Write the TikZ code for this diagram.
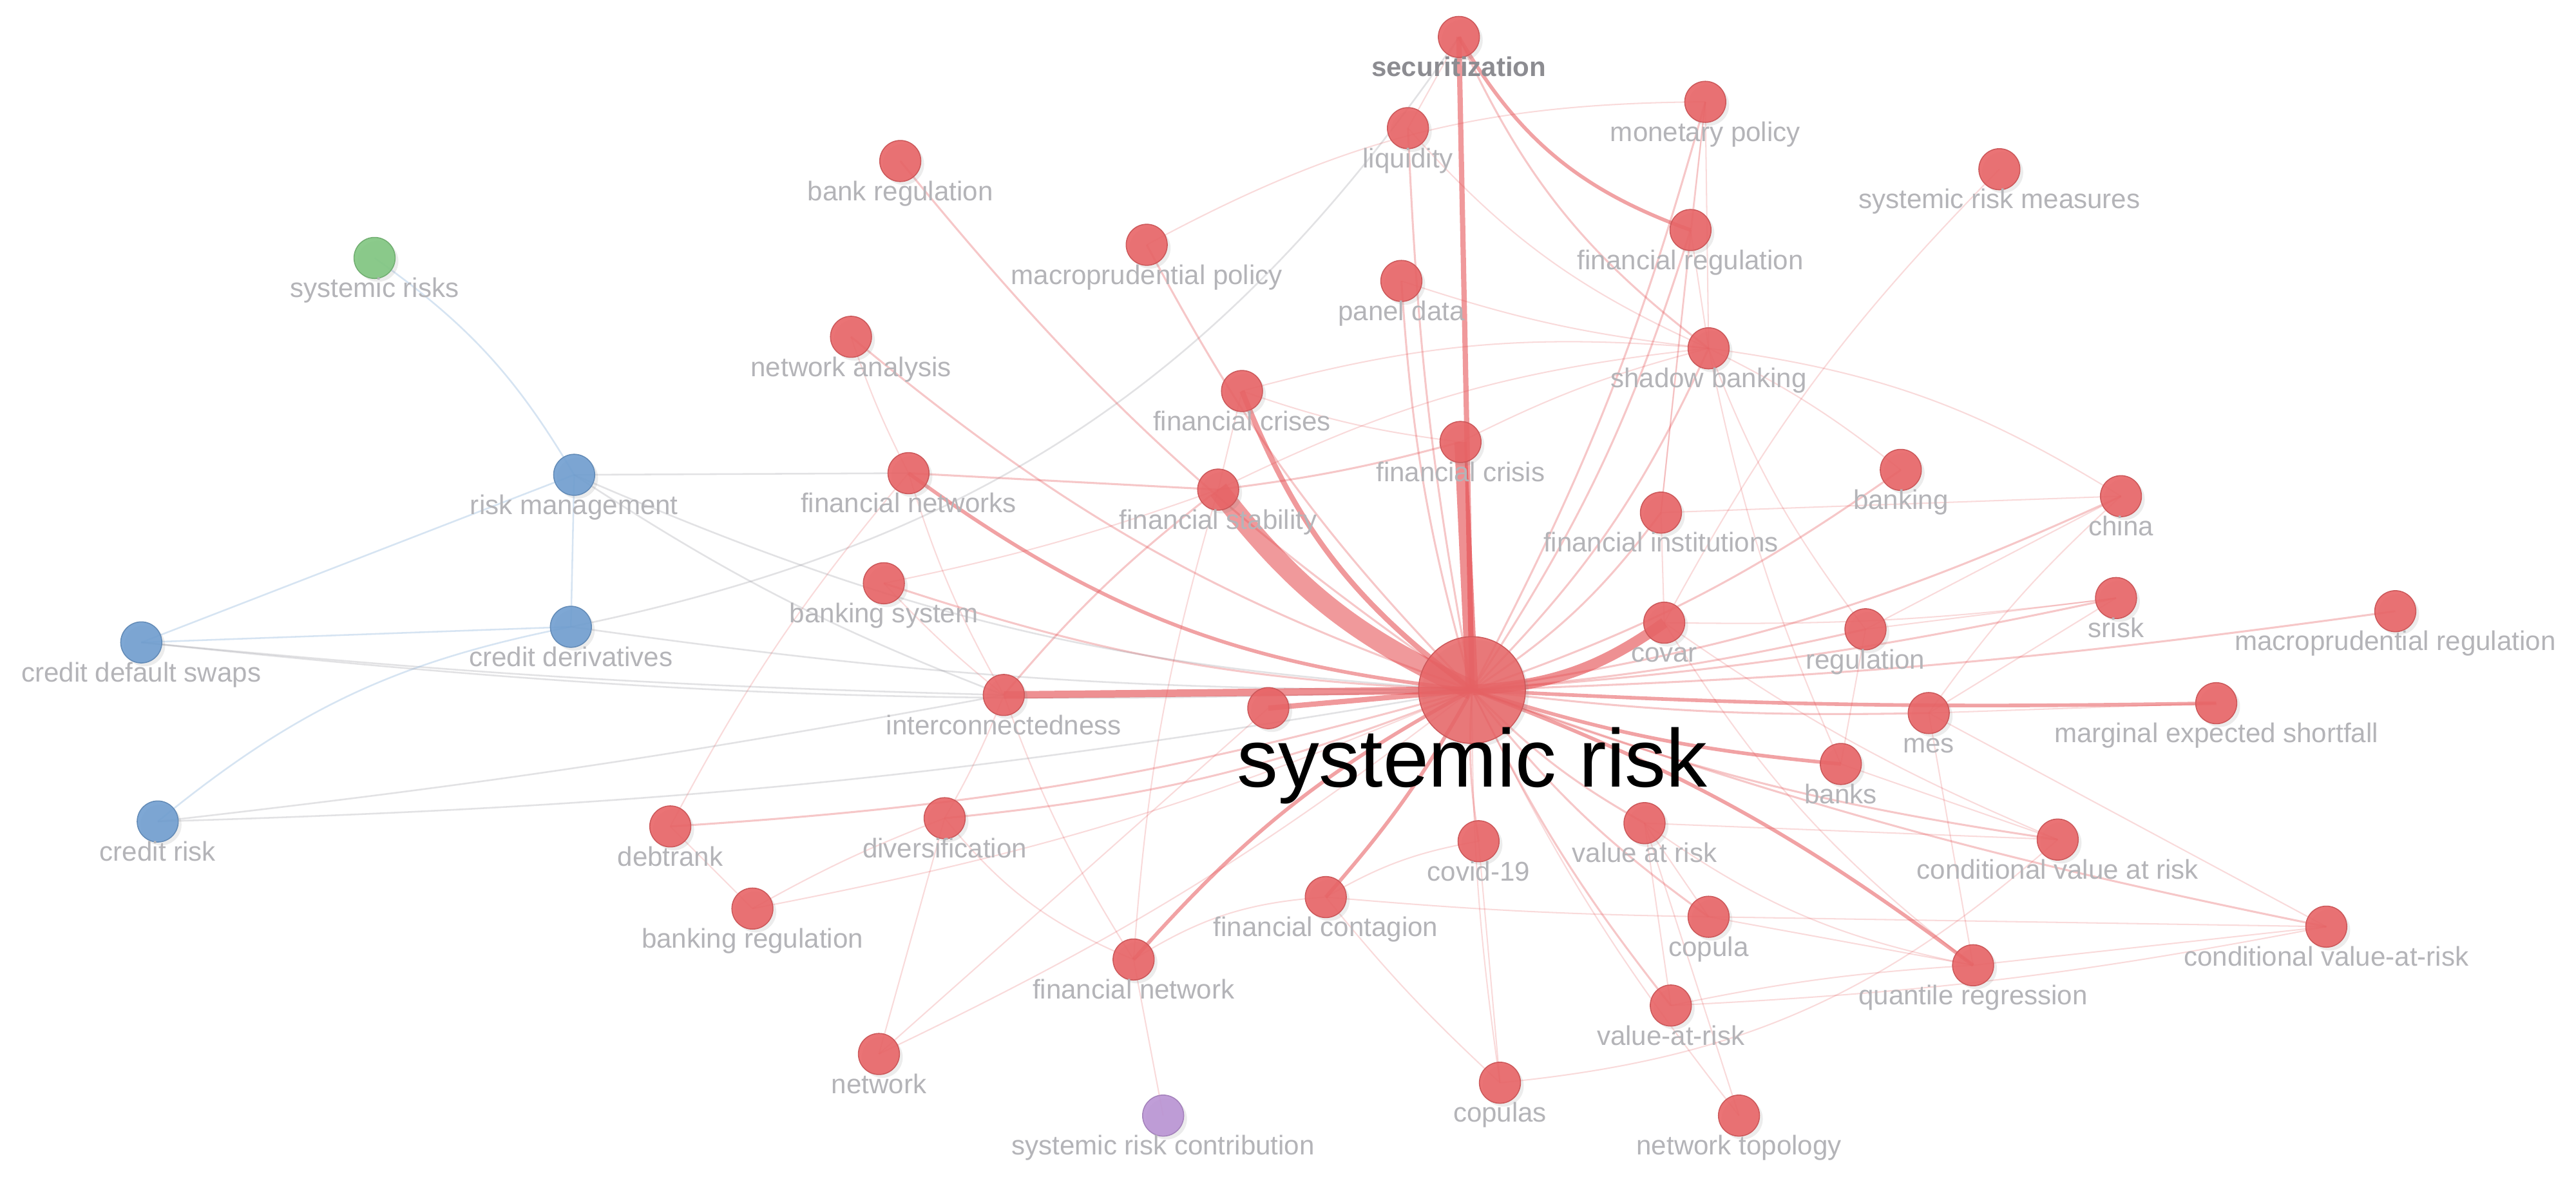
\documentclass[tikz,border=0pt]{standalone}
\usepackage{fontspec}
\setmainfont{Liberation Sans}
\usetikzlibrary{shadows}
\pgfdeclarelayer{bg}
\pgfdeclarelayer{fg}
\pgfsetlayers{bg,main,fg}
\definecolor{nred}{RGB}{232,100,102}
\definecolor{nblue}{RGB}{112,158,208}
\definecolor{ngreen}{RGB}{128,198,128}
\definecolor{npurple}{RGB}{186,148,212}
\definecolor{ered}{RGB}{228,70,74}
\definecolor{eblue}{RGB}{140,180,220}
\definecolor{egray}{RGB}{140,140,150}
\definecolor{labgray}{RGB}{180,180,184}
\definecolor{secgray}{RGB}{140,140,145}
\newcommand\kwd[5]{%
  \node[kwn,fill=#4,draw=#4!88!black] (#1) at (#2,#3) {};
  \begin{pgfonlayer}{fg}\node[lab] (#1-l) at (#2,#3+24) {#5};\end{pgfonlayer}}
\newcommand\cnx[4]{\draw[#1] (#2.center) to[bend right=#4] (#3.center);}
\begin{document}
\begin{tikzpicture}[x=1pt,y=-1pt,
  kwn/.style={circle,minimum size=25pt,inner sep=0pt,line width=0.6pt,fill opacity=0.9,
    drop shadow={shadow xshift=2pt,shadow yshift=-2pt,opacity=0.15}},
  lab/.style={anchor=base,inner sep=0pt,text=labgray,font=\fontsize{16.5}{18}\selectfont},
  ln0/.style={draw=ered,line width=0.8pt,draw opacity=0.2},
  ln1/.style={draw=ered,line width=1.2pt,draw opacity=0.3},
  ln2/.style={draw=ered,line width=2.2pt,draw opacity=0.5},
  ln3/.style={draw=ered,line width=3.2pt,draw opacity=0.55},
  ln4/.style={draw=ered,line width=4.5pt,draw opacity=0.6},
  ln5/.style={draw=ered,line width=7.5pt,draw opacity=0.6},
  ln5b/.style={draw=ered,line width=6.5pt,draw opacity=0.6},
  ln6/.style={draw=ered,line width=12pt,draw opacity=0.55},
  lgr/.style={draw=egray,line width=1pt,draw opacity=0.25},
  lbl/.style={draw=eblue,line width=1pt,draw opacity=0.35}]
\useasboundingbox (0,0) rectangle (1568,721.5);
\begin{pgfonlayer}{bg}
\fill[white] (0,0) rectangle (1568,721.5);
\end{pgfonlayer}

\kwd{sec}{888}{22.5}{nred}{\bfseries\color{secgray}securitization}
\kwd{mon}{1038}{62}{nred}{monetary policy}
\kwd{liq}{857}{78}{nred}{liquidity}
\kwd{srm}{1217}{103}{nred}{systemic risk measures}
\kwd{breg}{548}{98}{nred}{bank regulation}
\kwd{mpp}{698}{149}{nred}{macroprudential policy}
\kwd{freg}{1029}{140}{nred}{financial regulation}
\kwd{pd}{853}{171}{nred}{panel data}
\kwd{srs}{228}{157}{ngreen}{systemic risks}
\kwd{na}{518}{205}{nred}{network analysis}
\kwd{sb}{1040}{212}{nred}{shadow banking}
\kwd{fcs}{756}{238}{nred}{financial crises}
\kwd{fc}{889}{269}{nred}{financial crisis}
\kwd{rm}{349.5}{289}{nblue}{risk management}
\kwd{fns}{553}{288}{nred}{financial networks}
\kwd{bkg}{1157}{286}{nred}{banking}
\kwd{chn}{1291}{302}{nred}{china}
\kwd{fs}{741.5}{298}{nred}{financial stability}
\kwd{fi}{1011}{312}{nred}{financial institutions}
\kwd{bs}{538}{355}{nred}{banking system}
\kwd{cds}{86}{391}{nblue}{credit default swaps}
\kwd{cd}{347.5}{381.5}{nblue}{credit derivatives}
\kwd{cov}{1013}{379}{nred}{covar}
\kwd{reg}{1135.5}{383}{nred}{regulation}
\kwd{srk}{1288}{364}{nred}{srisk}
\kwd{mpr}{1458}{372}{nred}{macroprudential regulation}
\kwd{ic}{611}{423}{nred}{interconnectedness}
\kwd{mesf}{1349}{428}{nred}{marginal expected shortfall}
\kwd{mes}{1174}{434}{nred}{mes}
\kwd{bks}{1120.5}{465}{nred}{banks}
\kwd{cr}{96}{500}{nblue}{credit risk}
\kwd{dr}{408}{503}{nred}{debtrank}
\kwd{div}{575}{498}{nred}{diversification}
\kwd{cvn}{900}{512}{nred}{covid-19}
\kwd{var}{1001}{501}{nred}{value at risk}
\kwd{cvar}{1252.5}{511}{nred}{conditional value at risk}
\kwd{brg}{458}{553}{nred}{banking regulation}
\kwd{fcon}{807}{546}{nred}{financial contagion}
\kwd{cop}{1040}{558}{nred}{copula}
\kwd{cvarb}{1416}{564}{nred}{conditional value-at-risk}
\kwd{fnet}{690}{584}{nred}{financial network}
\kwd{qr}{1201}{587.5}{nred}{quantile regression}
\kwd{varb}{1017}{612}{nred}{value-at-risk}
\kwd{net}{535}{641.5}{nred}{network}
\kwd{cops}{913}{659}{nred}{copulas}
\kwd{nt}{1058.5}{679}{nred}{network topology}
\kwd{src}{708}{679}{npurple}{systemic risk contribution}
\node[kwn,fill=nred,draw=nred!88!black] (un) at (772,431) {};
\node[kwn,fill=nred,draw=nred!88!black,minimum size=65pt,fill opacity=0.85] (sr) at (896,420) {};
\begin{pgfonlayer}{fg}
\node[anchor=base,inner sep=0pt,text=black,font=\fontsize{50}{55}\selectfont] (sr-l) at (896,479) {systemic risk};
\end{pgfonlayer}

\begin{pgfonlayer}{bg}
% other links
\cnx{ln0}{liq}{sec}{0}
\cnx{ln2}{sec}{freg}{20}
\cnx{ln1}{sec}{sb}{14}
\cnx{lgr}{cd}{sec}{22}
\cnx{ln0}{mpp}{mon}{-14}
\cnx{ln0}{liq}{sb}{12}
\cnx{ln0}{pd}{sb}{6}
\cnx{ln0}{freg}{mon}{0}
\cnx{ln0}{mon}{sb}{0}
\cnx{ln0}{freg}{sb}{0}
\cnx{ln0}{fi}{freg}{0}
\cnx{ln0}{fcs}{fs}{0}
\cnx{ln0}{fcs}{fc}{6}
\cnx{ln0}{fcs}{sb}{-10}
\cnx{ln1}{fs}{fc}{4}
\cnx{ln0}{fs}{sb}{-10}
\cnx{ln1}{fns}{fs}{0}
\cnx{ln0}{fns}{ic}{6}
\cnx{ln0}{na}{fns}{4}
\cnx{ln0}{bs}{fs}{4}
\cnx{ln0}{bs}{ic}{4}
\cnx{ln1}{ic}{fs}{-6}
\cnx{ln0}{ic}{fnet}{6}
\cnx{ln0}{div}{ic}{4}
\cnx{ln0}{dr}{fns}{-6}
\cnx{ln0}{dr}{brg}{0}
\cnx{ln0}{brg}{div}{-4}
\cnx{ln0}{div}{fnet}{14}
\cnx{ln0}{net}{div}{0}
\cnx{ln0}{net}{un}{0}
\cnx{ln0}{fnet}{src}{0}
\cnx{ln0}{fnet}{fcon}{-14}
\cnx{ln0}{fnet}{fs}{-6}
\cnx{ln0}{fcon}{cvn}{-10}
\cnx{ln0}{fcon}{cop}{2}
\cnx{ln0}{fcon}{cops}{4}
\cnx{ln0}{cvn}{cops}{0}
\cnx{ln0}{var}{cop}{0}
\cnx{ln0}{var}{varb}{0}
\cnx{ln0}{var}{nt}{0}
\cnx{ln0}{var}{qr}{12}
\cnx{ln0}{var}{cvar}{0}
\cnx{ln0}{varb}{qr}{-4}
\cnx{ln0}{varb}{cvarb}{4}
\cnx{ln0}{cops}{cvar}{18}
\cnx{ln0}{cop}{qr}{0}
\cnx{ln0}{cop}{cvarb}{0}
\cnx{ln0}{qr}{cvarb}{0}
\cnx{ln0}{mes}{cvarb}{0}
\cnx{ln0}{bks}{cvar}{0}
\cnx{ln0}{mes}{qr}{0}
\cnx{ln0}{reg}{chn}{0}
\cnx{ln0}{mes}{chn}{-6}
\cnx{ln0}{reg}{srk}{0}
\cnx{ln0}{cov}{srk}{4}
\cnx{ln0}{mes}{srk}{0}
\cnx{ln0}{mes}{mesf}{0}
\cnx{ln0}{sb}{chn}{-12}
\cnx{ln0}{cov}{srm}{-8}
\cnx{ln0}{sb}{bkg}{-6}
\cnx{ln0}{fi}{cov}{0}
\cnx{ln0}{fi}{chn}{0}
\cnx{ln0}{fi}{mon}{0}
\cnx{ln0}{sb}{reg}{8}
\cnx{ln0}{sb}{bks}{6}
\cnx{ln0}{fc}{sb}{-6}
\cnx{ln0}{reg}{bks}{0}
\cnx{ln0}{cov}{cvar}{6}
\cnx{ln0}{cov}{qr}{10}
\cnx{lgr}{rm}{fns}{0}
\cnx{lgr}{rm}{ic}{6}
\cnx{lbl}{cds}{cd}{0}
\cnx{lgr}{cds}{ic}{2}
\cnx{lbl}{cds}{rm}{0}
\cnx{lbl}{cr}{cd}{-14}
\cnx{lbl}{rm}{cd}{0}
\cnx{lbl}{srs}{rm}{-12}
\cnx{lgr}{cr}{ic}{2}
% star from systemic risk
\cnx{ln1}{sr}{mes}{4}
\cnx{ln1}{sr}{reg}{4}
\cnx{ln1}{sr}{srk}{4}
\cnx{ln1}{sr}{mpr}{3}
\cnx{ln1}{sr}{cvar}{6}
\cnx{ln1}{sr}{cvarb}{4}
\cnx{ln1}{sr}{sb}{10}
\cnx{ln1}{sr}{fi}{10}
\cnx{ln1}{sr}{freg}{8}
\cnx{ln1}{sr}{mon}{6}
\cnx{ln1}{sr}{bkg}{8}
\cnx{ln1}{sr}{chn}{8}
\cnx{ln1}{sr}{var}{8}
\cnx{ln1}{sr}{cop}{8}
\cnx{ln1}{sr}{varb}{6}
\cnx{ln0}{sr}{cops}{4}
\cnx{ln0}{sr}{nt}{6}
\cnx{ln1}{sr}{cvn}{6}
\cnx{ln1}{div}{sr}{8}
\cnx{ln1}{dr}{sr}{6}
\cnx{ln0}{brg}{sr}{6}
\cnx{ln1}{bs}{sr}{8}
\cnx{ln1}{na}{sr}{10}
\cnx{ln1}{mpp}{sr}{8}
\cnx{ln1}{breg}{sr}{8}
\cnx{ln1}{pd}{sr}{6}
\cnx{ln1}{liq}{sr}{4}
\cnx{ln0}{net}{sr}{6}
\cnx{lgr}{rm}{sr}{10}
\cnx{lgr}{cd}{sr}{4}
\cnx{lgr}{cds}{sr}{4}
\cnx{lgr}{cr}{sr}{4}
\cnx{ln2}{sr}{mesf}{2}
\cnx{ln2}{sr}{qr}{-8}
\cnx{ln2}{sr}{bks}{6}
\cnx{ln2}{fnet}{sr}{-10}
\cnx{ln2}{fcon}{sr}{6}
\cnx{ln2}{fns}{sr}{15}
\cnx{ln3}{un}{sr}{0}
\cnx{ln3}{fcs}{sr}{16}
\cnx{ln3}{sec}{sr}{0}
\cnx{ln4}{ic}{sr}{0}
\cnx{ln5b}{sr}{cov}{16}
\cnx{ln5}{fc}{sr}{0}
\cnx{ln6}{fs}{sr}{14}
\end{pgfonlayer}
\end{tikzpicture}
\end{document}
